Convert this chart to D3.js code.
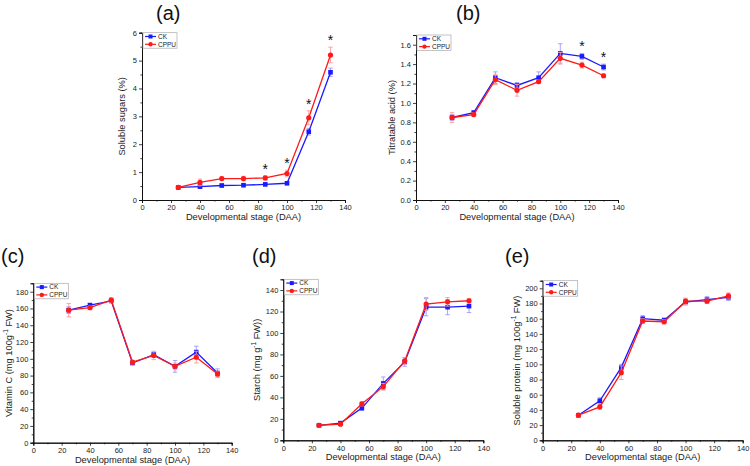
<!DOCTYPE html>
<html><head><meta charset="utf-8">
<script src="https://cdn.jsdelivr.net/npm/d3@7"></script>
<style>body{margin:0;background:#fff}svg{display:block;font-family:"Liberation Sans",Arial,sans-serif}</style>
</head><body><svg width="750" height="466"></svg>
<script>
// ---------- data ----------
const stages = [25, 40, 55, 70, 85, 100, 115, 130];
const xTicks = [0, 20, 40, 60, 80, 100, 120, 140];
const seriesNames = ["CK", "CPPU"];
const xTitle = "Developmental stage (DAA)";

// (a) soluble sugars
const sugarCK = [0.45, 0.48, 0.52, 0.53, 0.56, 0.60, 2.45, 4.58];
const sugarCKErr = [0.04, 0.06, 0.05, 0.04, 0.05, 0.05, 0.12, 0.15];
const sugarCPPU = [0.45, 0.63, 0.77, 0.77, 0.79, 0.95, 2.95, 5.20];
const sugarCPPUErr = [0.05, 0.12, 0.06, 0.08, 0.07, 0.12, 0.25, 0.28];
const sugarStars = [85, 100, 115, 130];
const sugarTicks = [0, 1, 2, 3, 4, 5, 6];

// (b) titratable acid
const acidCK = [0.85, 0.90, 1.26, 1.18, 1.26, 1.51, 1.48, 1.37];
const acidCKErr = [0.03, 0.02, 0.06, 0.03, 0.06, 0.10, 0.03, 0.03];
const acidCPPU = [0.85, 0.88, 1.24, 1.13, 1.22, 1.46, 1.39, 1.28];
const acidCPPUErr = [0.05, 0.02, 0.05, 0.06, 0.02, 0.06, 0.03, 0.02];
const acidStars = [115, 130];
const acidTicks = [0, 0.2, 0.4, 0.6, 0.8, 1.0, 1.2, 1.4, 1.6];

// (c) vitamin C
const vcCK = [158, 164, 169, 95, 105, 91, 108, 83];
const vcCKErr = [4, 2, 2, 2, 3, 7, 7, 5];
const vcCPPU = [158, 161, 170, 96, 104, 91, 102, 82];
const vcCPPUErr = [8, 2, 3, 2, 5, 4, 7, 3];
const vcTicks = [0, 20, 40, 60, 80, 100, 120, 140, 160, 180];

// (d) starch
const starchCK = [14, 16, 30, 53, 73, 124, 124, 125];
const starchCKErr = [1, 1, 2, 6, 4, 8, 7, 6];
const starchCPPU = [14, 15, 34, 50, 74, 127, 129, 130];
const starchCPPUErr = [1, 1, 2, 3, 3, 6, 4, 2];
const starchTicks = [0, 20, 40, 60, 80, 100, 120, 140];

// (e) soluble protein
const protCK = [33, 52, 96, 160, 158, 182, 185, 188];
const protCKErr = [2, 4, 4, 4, 3, 4, 4, 4];
const protCPPU = [33, 44, 89, 157, 156, 183, 183, 190];
const protCPPUErr = [2, 3, 9, 3, 3, 4, 3, 4];
const protTicks = [0, 20, 40, 60, 80, 100, 120, 140, 160, 180, 200];

// ---------- drawing ----------
const svg = d3.select("svg");
const colCK = "#1a1aff", colCPPU = "#ff1a1a";
const errCK = "#9a9aff", errCPPU = "#ff9a9a";

function panel(o) {
  const g = svg.append("g");
  const x = d3.scaleLinear().domain([0, 140]).range([o.x0, o.x1]);
  const y = d3.scaleLinear().domain([0, o.yMax]).range([o.yB, o.yT]);
  // axes
  const ax = g.append("g").attr("transform", `translate(0,${o.yB})`)
    .call(d3.axisBottom(x).tickValues(xTicks).tickSize(3).tickPadding(2).tickFormat(d3.format("d")));
  const axm = g.append("g").attr("transform", `translate(0,${o.yB})`)
    .call(d3.axisBottom(x).tickValues(d3.range(10, 140, 20)).tickSize(1.6).tickFormat(""));
  const ay = g.append("g").attr("transform", `translate(${o.x0},0)`)
    .call(d3.axisLeft(y).tickValues(o.ticks).tickSize(3).tickPadding(2).tickFormat(d3.format(o.fmt)));
  const minors = d3.range(o.minor, o.yMax, o.minor * 2).filter(v => v <= o.yMax);
  const aym = g.append("g").attr("transform", `translate(${o.x0},0)`)
    .call(d3.axisLeft(y).tickValues(minors).tickSize(1.6).tickFormat(""));
  [ax, axm, ay, aym].forEach(a => {
    a.selectAll("path").attr("stroke", "#111").attr("stroke-width", 1);
    a.selectAll("line").attr("stroke", "#111").attr("stroke-width", 0.8);
    a.selectAll("text").attr("font-size", 7.5).attr("fill", "#222").attr("font-family", "Liberation Sans, Arial, sans-serif");
  });
  // titles
  g.append("text").attr("x", (o.x0 + o.x1) / 2).attr("y", o.yB + 20)
    .attr("text-anchor", "middle").attr("font-size", 9.3).attr("fill", "#222").text(xTitle);
  const yt = g.append("text").attr("transform", `translate(${o.x0 - o.titleOff},${(o.yB + o.yT) / 2}) rotate(-90)`)
    .attr("text-anchor", "middle").attr("font-size", 9.3).attr("fill", "#222");
  yt.append("tspan").text(o.title[0]);
  if (o.title.length > 1) {
    yt.append("tspan").attr("font-size", 6.5).attr("dy", -4).text(o.title[1]);
    yt.append("tspan").attr("dy", 4).text(o.title[2]);
  }
  g.append("text").attr("x", o.lx).attr("y", o.ly).attr("font-size", 20).attr("fill", "#111").text(o.label);

  // series
  const series = [
    {name: seriesNames[0], v: o.ck, e: o.ckErr, c: colCK, ec: errCK, shape: "sq"},
    {name: seriesNames[1], v: o.cp, e: o.cpErr, c: colCPPU, ec: errCPPU, shape: "ci"}
  ];
  series.forEach(s => {
    const pts = stages.map((d, i) => ({x: d, v: s.v[i], e: s.e[i]}));
    const eb = g.append("g").attr("stroke", s.ec).attr("stroke-width", 0.9);
    pts.forEach(p => {
      eb.append("line").attr("x1", x(p.x)).attr("x2", x(p.x)).attr("y1", y(p.v - p.e)).attr("y2", y(p.v + p.e));
      eb.append("line").attr("x1", x(p.x) - 2.2).attr("x2", x(p.x) + 2.2).attr("y1", y(p.v + p.e)).attr("y2", y(p.v + p.e));
      eb.append("line").attr("x1", x(p.x) - 2.2).attr("x2", x(p.x) + 2.2).attr("y1", y(p.v - p.e)).attr("y2", y(p.v - p.e));
    });
    g.append("path").datum(pts).attr("fill", "none").attr("stroke", s.c).attr("stroke-width", 1.3)
      .attr("d", d3.line().x(p => x(p.x)).y(p => y(p.v)));
    pts.forEach(p => {
      if (s.shape === "sq") g.append("rect").attr("x", x(p.x) - 2.3).attr("y", y(p.v) - 2.3).attr("width", 4.6).attr("height", 4.6).attr("fill", s.c);
      else g.append("circle").attr("cx", x(p.x)).attr("cy", y(p.v)).attr("r", 2.6).attr("fill", s.c);
    });
  });
  // stars
  (o.stars || []).forEach(st => {
    const i = stages.indexOf(st);
    const top = Math.max(o.ck[i] + o.ckErr[i], o.cp[i] + o.cpErr[i]);
    g.append("text").attr("x", x(st)).attr("y", y(top) - 2).attr("text-anchor", "middle")
      .attr("font-size", 14).attr("fill", "#111").text("*");
  });
  // legend
  const lg = g.append("g").attr("transform", `translate(${o.x0 + 1},${o.yT})`);
  lg.append("rect").attr("width", 34).attr("height", 15.5).attr("fill", "#fff").attr("stroke", "#aaa").attr("stroke-width", 0.7);
  series.forEach((s, k) => {
    const yy = 3.8 + k * 7.8;
    lg.append("line").attr("x1", 2).attr("x2", 13).attr("y1", yy).attr("y2", yy).attr("stroke", s.c).attr("stroke-width", 1.2);
    if (s.shape === "sq") lg.append("rect").attr("x", 5.5).attr("y", yy - 2).attr("width", 4).attr("height", 4).attr("fill", s.c);
    else lg.append("circle").attr("cx", 7.5).attr("cy", yy).attr("r", 2.2).attr("fill", s.c);
    lg.append("text").attr("x", 15).attr("y", yy + 2.3).attr("font-size", 6.5).attr("fill", "#222").text(s.name);
  });
}

panel({x0: 142, x1: 345, yT: 32.7, yB: 200, yMax: 6, ticks: sugarTicks, minor: 0.5, fmt: "d",
  title: ["Soluble sugars (%)"], titleOff: 17, label: "(a)", lx: 156, ly: 20,
  ck: sugarCK, ckErr: sugarCKErr, cp: sugarCPPU, cpErr: sugarCPPUErr, stars: sugarStars});
panel({x0: 416, x1: 618, yT: 35, yB: 200, yMax: 1.7, ticks: acidTicks, minor: 0.1, fmt: ".1f",
  title: ["Titratable acid (%)"], titleOff: 21, label: "(b)", lx: 456, ly: 20,
  ck: acidCK, ckErr: acidCKErr, cp: acidCPPU, cpErr: acidCPPUErr, stars: acidStars});
panel({x0: 33.3, x1: 231.7, yT: 283.3, yB: 442.7, yMax: 190, ticks: vcTicks, minor: 10, fmt: "d",
  title: ["Vitamin C (mg 100g", "-1", " FW)"], titleOff: 21.5, label: "(c)", lx: 1, ly: 263,
  ck: vcCK, ckErr: vcCKErr, cp: vcCPPU, cpErr: vcCPPUErr});
panel({x0: 283.3, x1: 483.3, yT: 279.3, yB: 440.3, yMax: 150, ticks: starchTicks, minor: 10, fmt: "d",
  title: ["Starch  (mg g", "-1", " FW))"], titleOff: 23, label: "(d)", lx: 252, ly: 263,
  ck: starchCK, ckErr: starchCKErr, cp: starchCPPU, cpErr: starchCPPUErr});
panel({x0: 542.7, x1: 742.7, yT: 280.7, yB: 440.3, yMax: 210, ticks: protTicks, minor: 10, fmt: "d",
  title: ["Soluble protein  (mg 100g", "-1", " FW)"], titleOff: 23, label: "(e)", lx: 505, ly: 263,
  ck: protCK, ckErr: protCKErr, cp: protCPPU, cpErr: protCPPUErr});
</script></body></html>
